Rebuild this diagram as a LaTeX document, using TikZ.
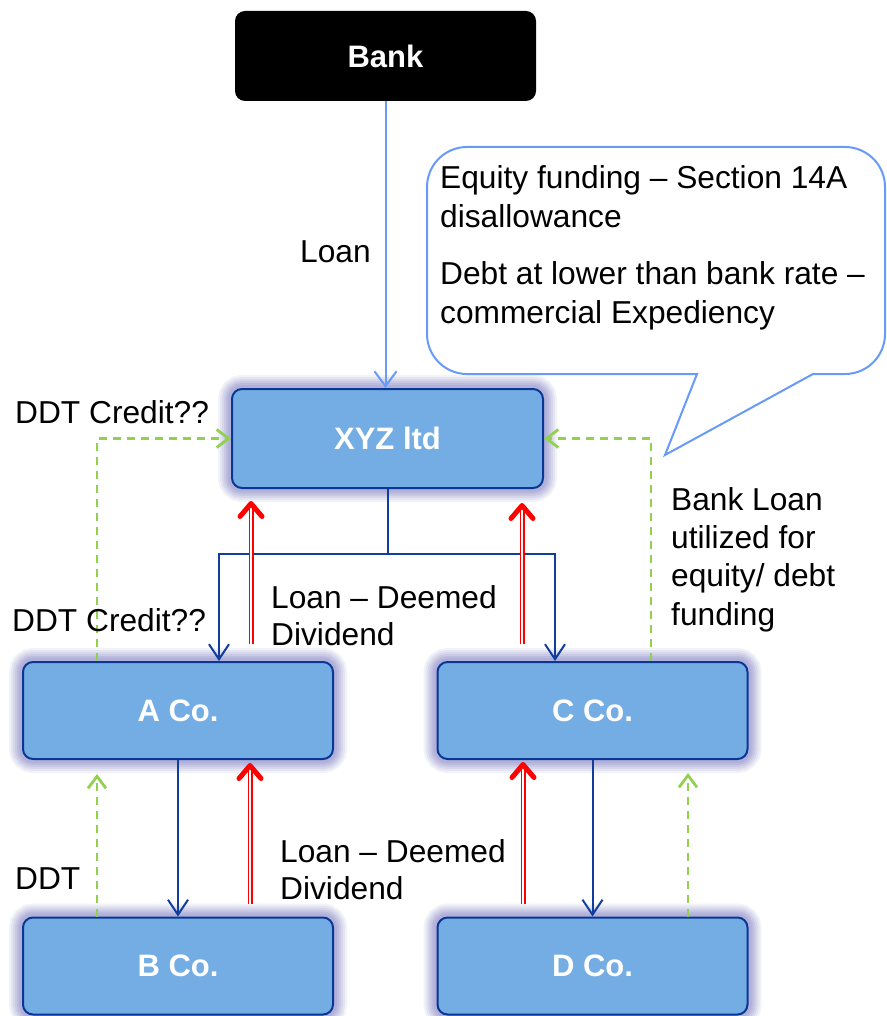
\documentclass[tikz,border=0pt]{standalone}
\usepackage{fontspec}
\setmainfont{Liberation Sans}
\usetikzlibrary{arrows.meta}

\definecolor{boxfill}{RGB}{116,173,227}
\definecolor{boxedge}{RGB}{10,55,150}
\definecolor{halo}{RGB}{150,150,204}
\definecolor{flowblue}{RGB}{16,62,154}
\definecolor{loanblue}{RGB}{104,154,250}
\definecolor{ddtgreen}{RGB}{146,208,80}
\definecolor{divred}{RGB}{255,0,0}

\tikzset{
  entity/.style={draw=boxedge, line width=2pt, fill=boxfill, rounded corners=10pt,
    minimum width=310pt, minimum height=97pt, inner sep=0pt, text=white,
    font=\fontsize{31}{36}\selectfont\bfseries,
    preaction={draw=halo, line width=28pt, draw opacity=0.12},
    preaction={draw=halo, line width=24pt, draw opacity=0.15},
    preaction={draw=halo, line width=20pt, draw opacity=0.18},
    preaction={draw=halo, line width=16pt, draw opacity=0.22},
    preaction={draw=halo, line width=12pt, draw opacity=0.26},
    preaction={draw=halo, line width=8pt, draw opacity=0.3}},
  bankbox/.style={fill=black, rounded corners=10pt, minimum width=301pt,
    minimum height=90pt, inner sep=0pt, text=white,
    font=\fontsize{31}{36}\selectfont\bfseries},
  lbl/.style={font=\fontsize{31.7}{37}\selectfont, inner sep=0pt, align=left,
    anchor=base west},
  trunk/.style={draw=flowblue, line width=2pt},
  flow/.style={trunk, -{Straight Barb[length=15pt,width=20pt]}},
  loanflow/.style={draw=loanblue, line width=2pt, -{Straight Barb[length=15pt,width=22pt]}},
  ddt/.style={draw=ddtgreen, line width=2.8pt, dash pattern=on 8pt off 6pt,
    -{Straight Barb[length=12pt,width=18pt]}},
  divflow/.style={draw=divred, line width=1.4pt, double=white, double distance=2.2pt,
    -{Straight Barb[length=13pt,width=22pt,line width=5pt,round]}},
  callout/.style={draw=loanblue, line width=2pt, fill=white}
}

\begin{document}
\begin{tikzpicture}[x=1pt, y=-1pt]
\useasboundingbox (0,0) rectangle (886,1016);

% speech bubble with its note (rounded body, sharp tail)
\draw[callout] (697,374) [rounded corners=40pt] -- (427,374) -- (427,147) -- (885,147)
  -- (885,374) [sharp corners] -- (813,374) -- (665,455) -- cycle;
\node[lbl, font=\fontsize{31.7}{38.5}\selectfont] (note) at (440,323)
  {Equity funding – Section 14A\\disallowance\\[19pt]Debt at lower than bank rate –\\commercial Expediency};

% entities
\node[bankbox] (bank) at (385.5,56) {Bank};
\node[entity, minimum width=311pt, minimum height=99pt] (xyz) at (387.5,438.5) {XYZ ltd};
\node[entity] (a) at (178,710.5) {A Co.};
\node[entity] (b) at (178,966) {B Co.};
\node[entity] (c) at (592.5,710.5) {C Co.};
\node[entity] (d) at (592.5,966) {D Co.};

% bank loan
\draw[loanflow] (bank.south) -- (bank.south |- xyz.north);

% funding down the group
\coordinate (split) at ([yshift=-65pt]xyz.south);
\draw[trunk] (xyz.south) -- (split);
\draw[flow] (split) -| ([xshift=41pt]a.north);
\draw[flow] (split) -| ([xshift=-37.5pt]c.north);
\draw[flow] (a.south) -- (b.north);
\draw[flow] (c.south) -- (d.north);

% deemed dividend loans upward
\draw[divflow] ([xshift=73pt,yshift=17pt]a.north) -- ([xshift=-136.5pt,yshift=-12pt]xyz.south);
\draw[divflow] ([xshift=-70.5pt,yshift=17pt]c.north) -- ([xshift=134.5pt,yshift=-14pt]xyz.south);
\draw[divflow] ([xshift=72pt,yshift=13pt]b.north) -- ([xshift=72pt,yshift=-3pt]a.south);
\draw[divflow] ([xshift=-69.5pt,yshift=13pt]d.north) -- ([xshift=-69.5pt,yshift=-2pt]c.south);

% DDT credits
\draw[ddt] ([xshift=-81pt]a.north) |- (xyz.west);
\draw[ddt] ([xshift=58.5pt]c.north) |- (xyz.east);
\draw[ddt] ([xshift=-81pt]b.north) -- ([xshift=-81pt,yshift=-14pt]a.south);
\draw[ddt] ([xshift=95.5pt]d.north) -- ([xshift=95.5pt,yshift=-13pt]c.south);

% labels
\node[lbl] (loanlbl) at (300,262) {Loan};
\node[lbl] (ddtc1) at (15,423) {DDT Credit??};
\node[lbl] (ddtc2) at (12,631) {DDT Credit??};
\node[lbl] (ddtlbl) at (15,889) {DDT};
\node[lbl] (dd1) at (271,645) {Loan – Deemed\\Dividend};
\node[lbl] (dd2) at (280,899) {Loan – Deemed\\Dividend};
\node[lbl, font=\fontsize{31.7}{38.3}\selectfont] (bankuse) at (671,625)
  {Bank Loan\\utilized for\\equity/ debt\\funding};
\end{tikzpicture}
\end{document}
